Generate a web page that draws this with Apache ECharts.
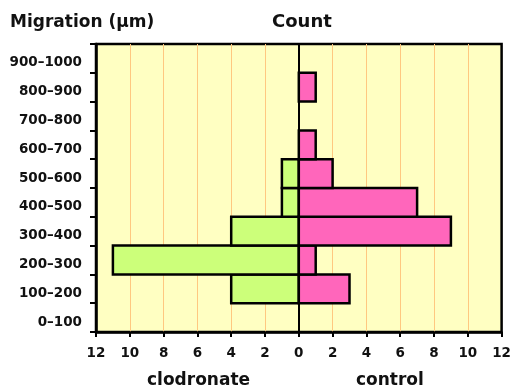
<!DOCTYPE html>
<html>
<head>
<meta charset="utf-8">
<script src="https://cdn.jsdelivr.net/npm/echarts@6/dist/echarts.min.js"></script>
<style>html,body{margin:0;padding:0;background:#fff;}#c{width:514px;height:387px;}</style>
</head>
<body>
<div id="c"></div>
<script>
var categories = ['0–100','100–200','200–300','300–400','400–500','500–600','600–700','700–800','800–900','900–1000'];
var control = [0, 3, 1, 9, 7, 2, 1, 0, 1, 0];
var clodronate = [0, 4, 11, 4, 1, 1, 0, 0, 0, 0];
var xMin = -12, xMax = 12, xStep = 2;

var FONT = 'DejaVu Sans';
var chart = echarts.init(document.getElementById('c'), null, {renderer: 'canvas'});

function toData(arr, sign) {
  var out = [];
  arr.forEach(function (v, i) { if (v !== 0) out.push([sign * v, i]); });
  return out;
}
function makeRender(fill) {
  return function (params, api) {
    var v = api.value(0), c = api.value(1);
    var p0 = api.coord([0, c]);
    var p1 = api.coord([v, c]);
    var h = api.size([0, 1])[1];
    return {
      type: 'rect',
      shape: {x: Math.min(p0[0], p1[0]), y: p0[1] - h / 2, width: Math.abs(p1[0] - p0[0]), height: h},
      style: {fill: fill, stroke: '#000', lineWidth: 2.5}
    };
  };
}

chart.setOption({
  animation: false,
  grid: {left: 96, right: 10, top: 44, bottom: 55, show: true, backgroundColor: '#FFFFC2', borderColor: '#000', borderWidth: 2.5},
  xAxis: {
    type: 'value', min: xMin, max: xMax, interval: xStep,
    axisLine: {show: true, lineStyle: {color: '#000', width: 2.5}},
    axisTick: {show: true, length: 5, lineStyle: {color: '#000', width: 2}},
    axisLabel: {color: '#111', fontFamily: FONT, fontWeight: 'bold', fontSize: 13.5, margin: 14,
      formatter: function (v) { return String(Math.abs(v)); }},
    splitLine: {show: true, showMinLine: false, showMaxLine: false, lineStyle: {color: '#FFC880', width: 1}}
  },
  yAxis: {
    type: 'category', data: categories,
    axisLine: {show: true, onZero: false, lineStyle: {color: '#000', width: 2.5}},
    axisTick: {show: true, length: 6, lineStyle: {color: '#000', width: 2}},
    axisLabel: {color: '#111', fontFamily: FONT, fontWeight: 'bold', fontSize: 13.5, margin: 14,
      formatter: function (v) { return '{a|' + v + '}'; },
      rich: {a: {fontFamily: FONT, fontWeight: 'bold', fontSize: 13.5, color: '#111', padding: [9, 0, 0, 0]}}},
    splitLine: {show: false}
  },
  series: [
    {type: 'custom', name: 'clodronate', encode: {x: 0, y: 1},
     data: toData(clodronate, -1), renderItem: makeRender('#CCFF7A'), z: 3},
    {type: 'custom', name: 'control', encode: {x: 0, y: 1},
     data: toData(control, 1), renderItem: makeRender('#FF66BB'), z: 3},
    {type: 'line', data: [], z: 10,
     markLine: {silent: true, symbol: 'none', label: {show: false},
       lineStyle: {color: '#000', width: 2, type: 'solid'}, data: [{xAxis: 0}]}}
  ],
  graphic: [
    {type: 'text', left: 10, top: 14, style: {text: 'Migration (μm)', font: 'bold 17px "DejaVu Sans"', fill: '#111'}},
    {type: 'text', left: 272, top: 13, style: {text: 'Count', font: 'bold 18px "DejaVu Sans"', fill: '#111'}},
    {type: 'text', left: 147, top: 372, style: {text: 'clodronate', font: 'bold 17px "DejaVu Sans"', fill: '#111'}},
    {type: 'text', left: 356, top: 372, style: {text: 'control', font: 'bold 17px "DejaVu Sans"', fill: '#111'}}
  ]
});
</script>
</body>
</html>
